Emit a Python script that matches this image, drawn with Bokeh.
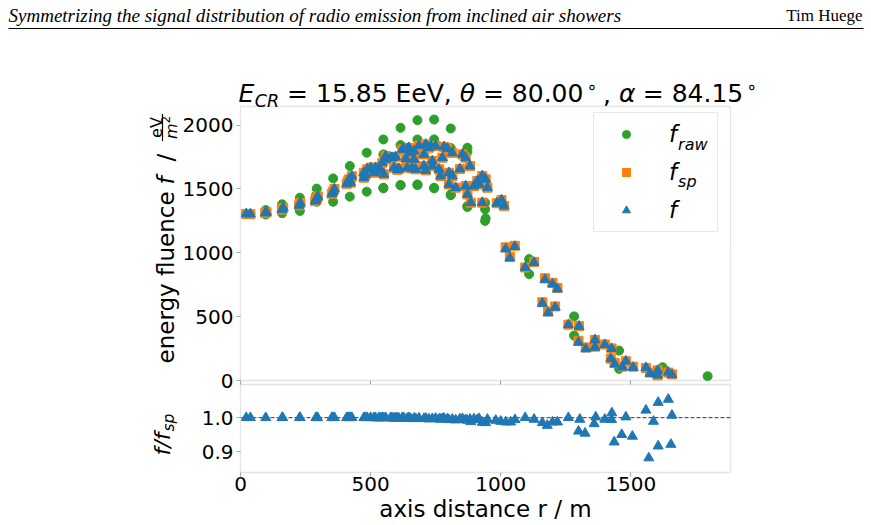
import math
from bokeh.plotting import figure
from bokeh.models import (Range1d, Label, Legend, LegendItem, BoxAnnotation,
                          FixedTicker, CustomJSTickFormatter, LinearAxis)
from bokeh.embed import file_html
from bokeh.resources import INLINE
from bokeh.core.properties import value

# ---------------- data ----------------
r_raw = [22, 38, 97, 97, 160, 160, 163, 228, 228, 226, 293, 293, 290, 356, 356, 358,
         420, 420, 422, 485, 485, 487, 549, 549, 549, 549, 615, 615, 615, 615,
         680, 680, 680, 680, 744, 744, 744, 744, 808, 808, 808, 808,
         872, 872, 872, 872, 940, 940, 940, 942,
         1109, 1109, 1282, 1282, 1455, 1455, 1622, 1795]
f_raw = [1305, 1305, 1335, 1300, 1380, 1310, 1345, 1432, 1328, 1380, 1503, 1400, 1450, 1583, 1400, 1480,
         1680, 1440, 1560, 1784, 1479, 1640, 1888, 1771, 1510, 1505, 1979, 1844, 1531, 1528,
         2039, 1888, 1531, 1536, 2044, 1888, 1510, 1505, 1974, 1820, 1458, 1451,
         1823, 1790, 1367, 1359, 1393, 1341, 1250, 1270,
         951, 833, 502, 352, 234, 91, 104, 34]

r_cor = [22, 38, 95, 100, 159, 164, 225, 230, 287, 292, 297, 351, 356, 361,
         408, 413, 418, 423, 428, 474, 474, 480, 487, 500, 513,
         519, 532, 538, 545, 551, 558, 558, 577, 583, 590, 596, 603, 609,
         622, 628, 641, 647, 654, 667, 635, 667, 641, 660, 673,
         686, 712, 724, 731, 705, 737, 705, 712, 737,
         750, 782, 795, 776, 763, 769, 801, 814, 801,
         814, 853, 865, 882, 843, 827, 865, 872, 885,
         897, 917, 910, 929, 942, 949, 929, 985, 1003, 1013,
         1019, 1035, 1054, 1094, 1128, 1160, 1170, 1182, 1199, 1209, 1218,
         1260, 1301, 1299, 1327, 1362, 1362, 1400, 1426,
         1423, 1438, 1468, 1481, 1509, 1558, 1574, 1603, 1603, 1644, 1658]
f_sp = [1305, 1303, 1312, 1318, 1338, 1352, 1372, 1390, 1405, 1425, 1442, 1462, 1480, 1500,
        1540, 1560, 1576, 1549, 1600, 1627, 1588, 1610, 1654, 1667, 1627,
        1667, 1667, 1641, 1706, 1615, 1732, 1758, 1745, 1745, 1667, 1752, 1650, 1659,
        1810, 1812, 1815, 1823, 1783, 1797, 1737, 1732, 1667, 1662, 1654,
        1841, 1849, 1823, 1836, 1771, 1719, 1680, 1646, 1680,
        1836, 1830, 1815, 1745, 1654, 1602, 1627, 1602, 1536,
        1783, 1771, 1745, 1680, 1656, 1510, 1523, 1458, 1393,
        1523, 1536, 1563, 1602, 1576, 1510, 1393, 1388, 1414, 1367,
        1043, 970, 1055, 885, 929, 613, 801, 541, 765, 580, 725,
        437, 426, 311, 259, 317, 265, 282, 251,
        170, 138, 109, 151, 108, 98, 62, 79, 40, 62, 48]
f_cor = [1305, 1304, 1312, 1318, 1338, 1352, 1372, 1390, 1405, 1425, 1442, 1462, 1480, 1500,
         1540, 1560, 1576, 1549, 1600, 1627, 1588, 1610, 1654, 1667, 1627,
         1667, 1667, 1641, 1706, 1615, 1732, 1758, 1745, 1745, 1667, 1752, 1650, 1659,
         1810, 1812, 1815, 1823, 1783, 1797, 1737, 1732, 1667, 1662, 1654,
         1841, 1849, 1823, 1836, 1771, 1719, 1680, 1646, 1680,
         1836, 1830, 1815, 1745, 1654, 1602, 1627, 1602, 1536,
         1783, 1771, 1745, 1680, 1656, 1510, 1523, 1458, 1393,
         1523, 1536, 1563, 1602, 1576, 1510, 1393, 1388, 1414, 1367,
         1030, 958, 1049, 885, 924, 604, 789, 529, 755, 573, 716,
         437, 424, 299, 247, 318, 260, 281, 250,
         172, 128, 104, 151, 102, 100, 55, 78, 42, 65, 45]

r_ratio = [22, 38, 97, 160, 162, 227, 229, 290, 293, 296, 351, 356, 361, 408, 413, 418, 423, 428,
           474, 480, 487, 500, 513, 519, 532, 538, 545, 551, 558, 577, 583, 590, 596, 603, 609,
           622, 628, 641, 647, 654, 667, 673, 686, 705, 712, 724, 737, 750, 763, 769, 776, 782,
           795, 801, 814, 827, 843, 853, 865, 872, 882, 885, 897, 910, 917, 929, 942, 949,
           981, 1000, 1019, 1038, 1055, 1094, 1128, 1160, 1179, 1199, 1218,
           1260, 1304, 1299, 1324, 1365, 1359, 1400, 1427, 1426, 1436, 1465, 1481, 1506,
           1558, 1569, 1587, 1605, 1605, 1644, 1654, 1658]
ratio = [1.0, 1.0, 1.0, 1.0, 1.0, 1.0, 1.0, 1.0, 1.0, 1.0, 1.0, 1.0, 1.0, 1.0, 1.0, 1.0, 1.0, 1.0,
         1.0, 1.0, 1.0, 1.0, 1.0, 0.999, 1.0, 0.999, 1.0, 0.999, 1.0, 1.0, 0.999, 0.998, 1.0, 0.999, 0.998,
         1.0, 0.999, 0.998, 1.0, 0.997, 0.998, 0.997, 0.999, 0.997, 0.998, 0.996, 0.997, 0.998, 0.996, 0.995, 0.997, 0.998,
         0.996, 0.994, 0.995, 0.993, 0.996, 0.997, 0.994, 0.992, 0.995, 0.988, 0.996, 0.994, 0.997, 0.986, 0.985, 0.995,
         0.992, 0.989, 0.987, 0.987, 0.994, 1.0, 0.995, 0.985, 0.977, 0.987, 0.987,
         1.0, 0.995, 0.96, 0.954, 1.002, 0.982, 0.995, 1.014, 0.994, 0.928, 0.95, 1.002, 0.945,
         1.022, 0.881, 0.989, 1.045, 0.916, 1.054, 0.921, 1.007]

x_ticks = [0, 500, 1000, 1500]
y_ticks = [0, 500, 1000, 1500, 2000]
ratio_ticks = [0.9, 1.0]
x_lim = (0, 1883)
y_lim = (0, 2146)
ratio_lim = (0.838, 1.098)
ratio_ref = 1.0

header_left = "Symmetrizing the signal distribution of radio emission from inclined air showers"
header_right = "Tim Huege"

GREEN, ORANGE, BLUE = "#2ca02c", "#ff7f0e", "#1f77b4"
SPINE = "#a8a8a8"
FONT = "DejaVu Sans"

# ---------------- layout (pixels of the page) ----------------
WID, HEI = 871, 525
FX0, FX1 = 240, 730          # panel left / right
MY0, MY1 = 380, 106          # main panel bottom / top
RY0, RY1 = 472, 384          # ratio panel bottom / top

kx = (FX1 - FX0) / (x_lim[1] - x_lim[0])
ky = (MY0 - MY1) / (y_lim[1] - y_lim[0])
kr = (RY0 - RY1) / (ratio_lim[1] - ratio_lim[0])

# DejaVu Sans advance widths (units per 2048 em), for placing text pieces
W = {' ': 651, ',': 651, '.': 651, '/': 690, '=': 1716, 'E': 1294, 'C': 1430, 'R': 1423,
     'V': 1401, 'e': 1260, 'f': 721, 'r': 842, 'a': 1255, 'w': 1675, 's': 1067, 'p': 1300,
     'm': 1995, 'n': 1298, 'g': 1300, 'y': 1212, 'l': 569, 'u': 1298, 'c': 1126,
     '\u03b8': 1253, '\u03b1': 1300, '\u2218': 1716}
for d in "0123456789":
    W[d] = 1303


def tw(s, size):
    return sum(W.get(c, 1200) for c in s) / 2048.0 * size


p = figure(width=WID, height=HEI,
           x_range=Range1d(x_lim[0] - FX0 / kx, x_lim[1] + (WID - FX1) / kx),
           y_range=Range1d(y_lim[0] - (HEI - MY0) / ky, y_lim[1] + MY1 / ky),
           min_border=0, toolbar_location=None, output_backend="svg",
           x_axis_location=None, y_axis_location=None)
p.extra_y_ranges = {"ratio": Range1d(ratio_lim[0] - (HEI - RY0) / kr, ratio_lim[1] + RY1 / kr)}
p.grid.visible = False
p.outline_line_color = None
p.border_fill_color = "white"

SHIFT = 0.28   # offset between the label anchor and the drawn baseline, in em


def lab(px, py, text, size, style="normal", rotated=False, align="left", font=FONT):
    # px, py: wanted baseline point in page pixels from the top-left corner
    if rotated:
        px = px - SHIFT * size
    else:
        py = py - SHIFT * size
    p.add_layout(Label(x=px, y=HEI - py, x_units="screen", y_units="screen", text=text,
                       text_font=font, text_font_size=f"{size}px", text_font_style=style,
                       angle=math.pi / 2 if rotated else 0.0, text_align=align,
                       text_baseline="alphabetic", text_color="black", level="overlay"))


def style_axis(ax, size="20px"):
    ax.axis_line_color = None
    ax.major_tick_line_color = SPINE
    ax.major_tick_line_width = 1.2
    ax.major_tick_out = 4
    ax.major_tick_in = 0
    ax.minor_tick_line_color = None
    ax.major_label_text_font = FONT
    ax.major_label_text_font_size = size
    ax.major_label_text_color = "black"


# axes
ax_my = LinearAxis(fixed_location=x_lim[0], ticker=FixedTicker(ticks=y_ticks), major_label_standoff=3)
style_axis(ax_my)
p.add_layout(ax_my, "left")
ax_mx = LinearAxis(fixed_location=y_lim[0], ticker=FixedTicker(ticks=x_ticks), major_label_standoff=0,
                   formatter=CustomJSTickFormatter(code="return '';"))
style_axis(ax_mx)
p.add_layout(ax_mx, "below")
ax_ry = LinearAxis(fixed_location=x_lim[0], y_range_name="ratio", ticker=FixedTicker(ticks=ratio_ticks),
                   formatter=CustomJSTickFormatter(code="return tick.toFixed(1);"), major_label_standoff=3)
style_axis(ax_ry)
p.add_layout(ax_ry, "left")
ax_rx = LinearAxis(fixed_location=ratio_lim[0], y_range_name="ratio", ticker=FixedTicker(ticks=x_ticks),
                   major_label_standoff=0)
style_axis(ax_rx)
p.add_layout(ax_rx, "below")

# panel frames
p.add_layout(BoxAnnotation(left=x_lim[0], right=x_lim[1], bottom=y_lim[0], top=y_lim[1],
                           fill_color=None, fill_alpha=0, line_color=SPINE, line_width=1.3))
p.add_layout(BoxAnnotation(left=x_lim[0], right=x_lim[1], bottom=ratio_lim[0], top=ratio_lim[1],
                           y_range_name="ratio", fill_color=None, fill_alpha=0,
                           line_color=SPINE, line_width=1.3))

# dashed reference line at ratio = 1, across the ratio panel
p.line(x=list(x_lim), y=[ratio_ref, ratio_ref], y_range_name="ratio",
       line_color="black", line_width=0.8, line_dash="4 2")

# marks
g_r = p.scatter(r_raw, f_raw, marker="circle", size=9, color=GREEN)
s_r = p.scatter(r_cor, f_sp, marker="square", size=9, color=ORANGE)
t_r = p.scatter(r_cor, f_cor, marker="triangle", size=10, color=BLUE)
p.scatter(r_ratio, ratio, marker="triangle", size=10, color=BLUE, y_range_name="ratio")

legend = Legend(items=[LegendItem(label=value("f"), renderers=[g_r]),
                       LegendItem(label=value("f"), renderers=[s_r]),
                       LegendItem(label=value("f"), renderers=[t_r])],
                location=(593, HEI - 232), orientation="vertical", padding=8, spacing=12,
                glyph_width=48, glyph_height=20, label_standoff=19, label_width=40,
                label_height=20, label_text_font=FONT, label_text_font_size="23px",
                label_text_font_style="italic", label_text_color="black", margin=0,
                border_line_color="#d4d4d4", border_line_width=1,
                background_fill_color="white", background_fill_alpha=0)
p.add_layout(legend)

# ---------------- texts ----------------
# header
lab(8, 20, header_left, 19, style="italic", font="Liberation Serif")
lab(862, 20, header_right, 17, font="Liberation Serif", align="right")
p.add_layout(BoxAnnotation(left=8, right=863, bottom=HEI - 28.6, top=HEI - 27.6, left_units="screen",
                           right_units="screen", top_units="screen", bottom_units="screen",
                           fill_color="black", fill_alpha=1, line_color=None))

# legend subscripts
fx = 668 + tw("f", 23) + 1.5
lab(fx, 148, "raw", 16, style="italic")
lab(fx, 185, "sp", 16, style="italic")

# title
T, TS = 25, 17.5
sp_T = tw(" ", T)
x = 238
yb = 100
lab(x, yb, "E", T, style="italic"); x += tw("E", T) + 0.5
lab(x, yb + 5, "CR", TS, style="italic"); x += tw("CR", TS) + sp_T
s = "= 15.85 EeV,"
lab(x, yb, s, T); x += tw(s, T) + sp_T
lab(x, yb, "\u03b8", T, style="italic"); x += tw("\u03b8", T) + sp_T
s = "= 80.00"
lab(x, yb, s, T); x += tw(s, T) + 3
lab(x, yb - 9, "\u2218", TS); x += tw("\u2218", TS) + 2
lab(x, yb, ",", T); x += tw(",", T) + sp_T
lab(x, yb, "\u03b1", T, style="italic"); x += tw("\u03b1", T) + sp_T
s = "= 84.15"
lab(x, yb, s, T); x += tw(s, T) + 3
lab(x, yb - 9, "\u2218", TS)

# y label of main panel (rotated, reads upward)
L = 23
lab(172, 363, "energy fluence", L, rotated=True)
lab(172, 184, "f", L, style="italic", rotated=True)
lab(172, 161, "/", L, rotated=True)
FS = 16
fw = tw("m", FS) + tw("2", 11.5)
yc = 127
lab(160, yc, "eV", FS, rotated=True, align="center")
p.add_layout(BoxAnnotation(left=161.4, right=162.6, bottom=HEI - (yc + fw / 2 + 2), top=HEI - (yc - fw / 2 - 2),
                           left_units="screen", right_units="screen", top_units="screen",
                           bottom_units="screen", fill_color="black", fill_alpha=1, line_color=None))
y0 = yc + fw / 2
lab(175, y0, "m", FS, style="italic", rotated=True)
lab(168, y0 - tw("m", FS), "2", 11.5, rotated=True)

# x label
lab(485, 515, "axis distance r / m", 23, align="center")

# y label of ratio panel f/f_sp
by = 455
lab(168, by, "f/f", 22, style="italic", rotated=True)
lab(173, by - tw("f/f", 22) - 1, "sp", 15.5, style="italic", rotated=True)

open("out.html", "w").write(file_html(p, INLINE))
